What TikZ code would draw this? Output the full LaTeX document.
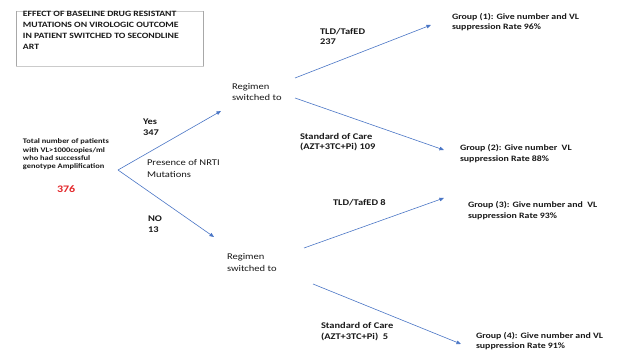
\documentclass[tikz,border=0pt]{standalone}
\usepackage{fontspec}
\setmainfont{Carlito}[FakeStretch=1.2]
\usetikzlibrary{arrows.meta}
\definecolor{linkblue}{HTML}{4A76C6}
\definecolor{boxgray}{HTML}{A8A8A8}
\definecolor{numred}{HTML}{E3262A}
\begin{document}
\begin{tikzpicture}[x=1pt,y=-1pt,
  every node/.style={inner sep=0pt,outer sep=0pt,align=left,anchor=west,text=black!90},
  grouptxt/.style={font=\fontsize{8.2}{10.6}\selectfont\bfseries},
  boldtxt/.style={font=\fontsize{8.7}{10.6}\selectfont\bfseries},
  smallbold/.style={font=\fontsize{7}{8.4}\selectfont\bfseries},
  plaintxt/.style={font=\fontsize{8.8}{11.4}\selectfont},
  titletxt/.style={font=\fontsize{8.1}{10.8}\selectfont\bfseries},
  link/.style={draw=linkblue,line width=0.6pt,-{Triangle[length=4.5pt,width=3.6pt]}},
]
\useasboundingbox[fill=white] (0,0) rectangle (618,352);

% title box
\draw[boxgray!60,line width=0.8pt] (16,11) rectangle (203,66);
\draw[boxgray,line width=1pt] (16,11) -- (16,66) (203,11) -- (203,66);
\node[titletxt,anchor=north west] (title) at (23,11.5)
  {EFFECT OF BASELINE DRUG RESISTANT\\MUTATIONS ON VIROLOGIC OUTCOME\\IN PATIENT SWITCHED TO SECONDLINE\\ART};

% starting population
\node[smallbold] (total) at (23,154.5)
  {Total number of patients\\with VL>1000copies/ml\\who had successful\\genotype Amplification};
\node[font=\fontsize{10}{11}\selectfont\bfseries,text=numred] (n376) at (57,189) {376};
\coordinate (fork) at (118,170);

% first split
\node[boldtxt] (yes) at (143,127) {Yes\\347};
\node[plaintxt] (nrti) at (147,168.5) {Presence of NRTI\\Mutations};
\node[boldtxt] (no) at (148,224) {NO\\13};

\node[plaintxt] (regA) at (232,92) {Regimen\\switched to};
\node[plaintxt] (regB) at (227,262.5) {Regimen\\switched to};
\coordinate (regAin) at (221,111);
\coordinate (regBin) at (214,237);

\draw[link] (fork) -- (regAin);
\draw[link] (fork) -- (regBin);

% upper regimen branch
\coordinate (regAup) at (295,78);
\coordinate (regAdn) at (295,98);
\node[boldtxt] (tldA) at (320,36.5) {TLD/TafED\\237};
\node[boldtxt] (socA) at (300,142) {Standard of Care\\(AZT+3TC+Pi) 109};
\node[grouptxt] (grp1) at (452,22) {Group (1): Give number and VL\\suppression Rate 96\%};
\node[grouptxt] (grp2) at (460,153.5) {Group (2): Give number\ \ VL\\suppression Rate 88\%};
\coordinate (grp1in) at (431,25);
\coordinate (grp2in) at (444,150);
\draw[link] (regAup) -- (grp1in);
\draw[link] (regAdn) -- (grp2in);

% lower regimen branch
\coordinate (regBup) at (304,248);
\coordinate (regBdn) at (313,284);
\node[boldtxt] (tldB) at (333,203) {TLD/TafED 8};
\node[boldtxt] (socB) at (321,331.5) {Standard of Care\\(AZT+3TC+Pi)\ \ 5};
\node[grouptxt] (grp3) at (468,210.5) {Group (3): Give number and\ \ VL\\suppression Rate 93\%};
\node[grouptxt] (grp4) at (476,341) {Group (4): Give number and VL\\suppression Rate 91\%};
\coordinate (grp3in) at (444,198);
\coordinate (grp4in) at (461,344);
\draw[link] (regBup) -- (grp3in);
\draw[link] (regBdn) -- (grp4in);
\end{tikzpicture}
\end{document}
